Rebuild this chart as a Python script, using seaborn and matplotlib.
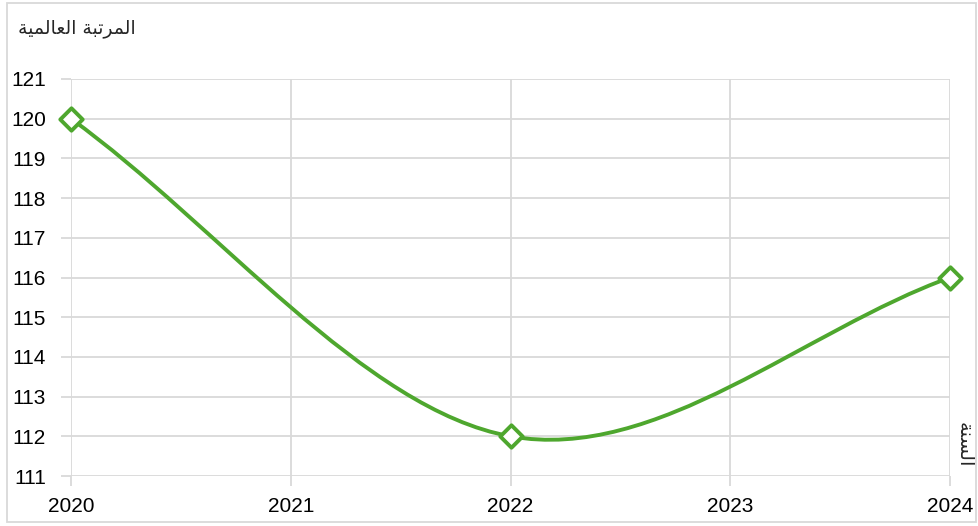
import matplotlib
matplotlib.use("Agg")
import matplotlib.pyplot as plt
import seaborn as sns
import pandas as pd
import numpy as np
from matplotlib.path import Path
from matplotlib.patches import PathPatch, Rectangle

# data
years = [2020, 2022, 2024]
rank = [120, 112, 116]
x_ticks = [2020, 2021, 2022, 2023, 2024]
y_ticks = list(range(111, 122))
y_title = "المرتبة العالمية"
x_title = "السنة"

# small arabic shaper (presentation forms) since matplotlib does no shaping
forms = {  # iso, fin, ini, med
    "ا": ("\ufe8d", "\ufe8e", None, None),
    "ر": ("\ufead", "\ufeae", None, None),
    "ة": ("\ufe93", "\ufe94", None, None),
    "ل": ("\ufedd", "\ufede", "\ufedf", "\ufee0"),
    "م": ("\ufee1", "\ufee2", "\ufee3", "\ufee4"),
    "ت": ("\ufe95", "\ufe96", "\ufe97", "\ufe98"),
    "ب": ("\ufe8f", "\ufe90", "\ufe91", "\ufe92"),
    "ع": ("\ufec9", "\ufeca", "\ufecb", "\ufecc"),
    "ي": ("\ufef1", "\ufef2", "\ufef3", "\ufef4"),
    "ن": ("\ufee5", "\ufee6", "\ufee7", "\ufee8"),
    "س": ("\ufeb1", "\ufeb2", "\ufeb3", "\ufeb4"),
}

def shape(s):
    out = []
    for i, ch in enumerate(s):
        if ch not in forms:
            out.append(ch)
            continue
        prev = s[i - 1] if i > 0 else None
        nxt = s[i + 1] if i < len(s) - 1 else None
        join_prev = prev in forms and forms[prev][2] is not None
        join_next = nxt in forms and forms[ch][2] is not None
        iso, fin, ini, med = forms[ch]
        if join_prev and join_next:
            out.append(med)
        elif join_prev:
            out.append(fin)
        elif join_next:
            out.append(ini)
        else:
            out.append(iso)
    return "".join(out)[::-1]

sns.set_style("white")
plt.rcParams["font.family"] = ["Liberation Sans", "DejaVu Sans"]

green = "#4ea72e"
grid = "#d9d9d9"

fig = plt.figure(figsize=(9.79, 5.26), dpi=100)
ax = fig.add_axes([71 / 979, 1 - 476 / 526, 879 / 979, 397 / 526])

# smoothed line like excel: cubic bezier segments built from the data points
df = pd.DataFrame({"year": years, "rank": rank})
pts = df[["year", "rank"]].to_numpy(dtype=float)
verts = [tuple(pts[0])]
codes = [Path.MOVETO]
n = len(pts)
for i in range(n - 1):
    p0, p1 = pts[i], pts[i + 1]
    t0 = (p1 - pts[i - 1]) / 6 if i > 0 else (p1 - p0) / 3
    t1 = (pts[i + 2] - p0) / 6 if i + 2 < n else (p1 - p0) / 3
    verts += [tuple(p0 + t0), tuple(p1 - t1), tuple(p1)]
    codes += [Path.CURVE4] * 3
ax.add_patch(PathPatch(Path(verts, codes), facecolor="none", edgecolor=green,
                       lw=2.8, zorder=3, capstyle="round", clip_on=False))

sns.scatterplot(data=df, x="year", y="rank", ax=ax, marker="D", s=130,
                facecolor="white", edgecolor=green, linewidth=2.8, zorder=4,
                legend=False, clip_on=False)

ax.set_xlim(2020, 2024)
ax.set_ylim(111, 121)
ax.set_xticks(x_ticks)
ax.set_yticks(y_ticks)
ax.grid(True, color=grid, lw=1.3)
for s in ax.spines.values():
    s.set_visible(False)
ax.tick_params(axis="both", bottom=True, left=True, length=7, width=1.3,
               color=grid, labelsize=15, labelcolor="black")
ax.tick_params(axis="y", pad=11)
ax.tick_params(axis="x", pad=8)
ax.set_xlabel("")
ax.set_ylabel("")

fig.text(18 / 979, 1 - 28 / 526, shape(y_title), fontsize=13.5, ha="left",
         va="center", family="DejaVu Sans")
fig.text(964 / 979, 1 - 445 / 526, shape(x_title), fontsize=14, rotation=270,
         ha="center", va="center", family="DejaVu Sans")

fig.add_artist(Rectangle((7 / 979, 4 / 526), 969 / 979, 519 / 526,
                         transform=fig.transFigure, fill=False,
                         edgecolor=grid, lw=1.3))

fig.savefig("out.png", dpi=100)
